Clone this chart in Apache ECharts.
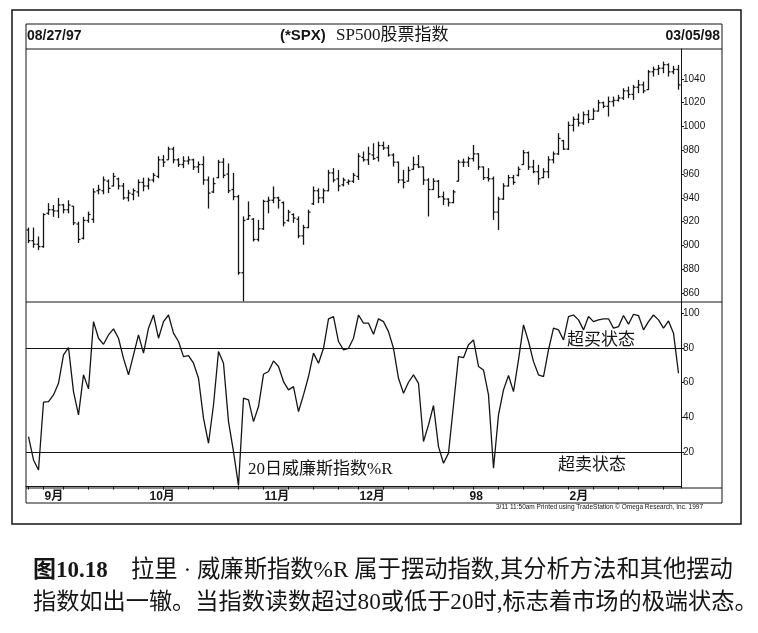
<!DOCTYPE html>
<html><head><meta charset="utf-8">
<script src="https://cdn.jsdelivr.net/npm/echarts@6/dist/echarts.min.js"></script>
<style>html,body{margin:0;padding:0;background:#fff}#c{width:758px;height:633px}</style>
</head><body><div id="c"></div>
<script>
// trading days per month
const d97_08 = [27,28,29];
const d97_09 = [2,3,4,5,8,9,10,11,12,15,16,17,18,19,22,23,24,25,26,29,30];
const d97_10 = [1,2,3,6,7,8,9,10,13,14,15,16,17,20,21,22,23,24,27,28,29,30,31];
const d97_11 = [3,4,5,6,7,10,11,12,13,14,17,18,19,20,21,24,25,26,28];
const d97_12 = [1,2,3,4,5,8,9,10,11,12,15,16,17,18,19,22,23,24,26,29,30,31];
const d98_01 = [2,5,6,7,8,9,12,13,14,15,16,20,21,22,23,26,27,28,29,30];
const d98_02 = [2,3,4,5,6,9,10,11,12,13,17,18,19,20,23,24,25,26,27];
const d98_03 = [2,3,4,5];
const monthKeys  = ['1997-09','1997-10','1997-11','1997-12','1998-01','1998-02'];
const monthNames = ['9月','10月','11月','12月','98','2月'];
const priceTicks = [860,880,900,920,940,960,980,1000,1020,1040];
const wrTicks = [20,40,60,80,100];
const wrLevels = [80,20];

const open = [913,904,901,899,927,930,929,934,930,933,918,906,921,922,946,946,954,950,956,950,
940,943,945,953,950,955,958,972,972,981,972,968,971,972,966,968,955,945,957,970,
960,947,941,877,922,922,905,914,937,938,940,936,921,926,922,908,915,935,946,940,
946,961,956,951,953,954,958,974,972,976,974,984,982,976,970,955,954,964,968,966,
955,947,954,941,939,936,954,970,970,973,977,966,957,956,928,939,950,957,959,968,
978,966,962,957,962,972,977,988,981,1001,1006,1003,1010,1006,1013,1020,1017,1021,1022,1024,
1030,1027,1033,1035,1031,1046,1048,1049,1052,1046,1048];
const high = [915,915,907.5,927,935.5,934,940,935,938,933,920,924,928.5,948,951,958,955.5,961,957,952.5,
946.7,948,955.5,957,957,961,975,976,983,983,973.4,975,975,973,970.6,975,958,957,972,973.4,
969,961,942.5,924.4,937,923,921.5,938.4,941,949.6,941,937,930,927,924.4,917.3,930,949.6,948,948,
963.5,965,963.5,957,955.5,961,977.5,979,983,985.9,987.3,987.3,984.5,977.5,970.5,963.5,966.3,974.7,976,966.3,
956.5,956.5,955,945.3,939.7,946.7,972,973,974.7,984.5,977.5,966.3,965,958,941,952.3,959.3,959.3,966.4,980.3,
979,972,967.8,965,975,979,994.4,988.8,1004.2,1008.4,1011,1012.6,1014,1015.4,1022.4,1021,1025.2,1025.2,1026.6,1032.2,
1033.6,1035,1039.2,1037.8,1047.6,1050.4,1051.8,1054.6,1053.2,1051,1051.8];
const low = [902,898,896,898,925.7,924,923,927,927,917,902,905,919,919,943,943,944,949.6,947,938.4,
937,938,941,945.5,947,953,956.5,966,972,969,966,965,968,963.5,961,951,931,944,956.5,956.5,
944,938,875.3,853,921.5,903.3,903.3,913,927,935.5,931,916,920,919,906,900.5,914.5,934,935.5,935.5,
945.5,953,945.5,949.6,951,952.5,955,970.5,967.7,971.9,970.5,980.3,974.7,966.3,952.3,948,953.7,963.5,965,950.9,
924.3,946.7,939.7,934,932.7,935.5,953.7,966,966,970.5,963.5,955,953.7,921.5,913,938.3,949.5,951,958,967.8,
963.5,960.7,951,956.5,956.5,969,976,980.3,980.3,995.8,1000,1001.4,1002.8,1005.6,1012.6,1015.4,1008.4,1016.8,1021,1022.4,
1023.8,1022.4,1028,1028,1030.8,1042,1043.4,1044.8,1042,1044,1031];
const close = [904,901,899,926,930,929,934,930,934,919,905,921,926,945,947,955,948,958,950,940,
944,946,953,950,955,959,972,970,981,972,968,971,972,966,968,955,944,952,970,959,
946,941,877,921,925,905,914,937,938,940,938,919,928,923,908,915,928,946,940,946,
961,955,950,955,954,959,975,972,977,973,984,982,976,970,955,953,963,968,966,955,
947,954,941,939,936,945,970,970,973,977,966,957,956,928,939,950,957,953,964,978,
966,962,956,962,972,977,990,981,1001,1006,1003,1010,1006,1013,1020,1017,1021,1022,1024,1030,
1027,1033,1035,1030,1046,1048,1049,1052,1046,1048,1035];
const williamsR = [28.9,15.4,9.6,48.7,49,52.9,59.6,76,80.2,54.8,41.4,64.5,56.4,95.2,85.6,82.1,87.5,91,85.6,74,
64.5,76,87.5,77,91.4,99,85.6,95.2,99,88.5,83.7,75,75.6,71.2,62.5,39.5,25,47.1,77.9,71.2,
37.5,20.2,0.6,51,50,37.5,46.2,64.8,66.4,72.5,69.3,60.6,55.8,57.7,43.3,52.9,63.5,77,71.2,79.8,
96.8,98.1,83.7,78.9,79.8,85.6,99,94.3,94.3,87.9,96.8,95.2,89.4,79.8,62.5,53.9,60.2,64.5,59.6,26,
35.6,46.8,23.1,13.5,19.3,47.1,75,74.4,81.8,84.6,69.3,67.3,52.9,10.6,41.4,55.8,64.1,54.8,73.1,93.3,
83.7,72.1,64.5,63.5,78.9,91.4,90.4,84.6,98.1,99,96.2,90.4,98.1,95.2,96.2,96.8,96.8,91.4,92.3,98.7,
93.7,99.4,98.7,90.4,95.2,99,96.2,91.4,95.6,88.5,65.4];

// build categories
const months = [['1997-08',d97_08],['1997-09',d97_09],['1997-10',d97_10],['1997-11',d97_11],
  ['1997-12',d97_12],['1998-01',d98_01],['1998-02',d98_02],['1998-03',d98_03]];
const dates = [];
months.forEach(([m, days]) => days.forEach(d => dates.push(m + '-' + String(d).padStart(2,'0'))));
const weekNo = s => Math.floor((Date.parse(s + 'T00:00:00Z') / 86400000 + 3) / 7);
const isWeekStart = i => i === 0 || weekNo(dates[i]) !== weekNo(dates[i-1]);
const isMonthStart = i => i > 0 && dates[i].slice(0,7) !== dates[i-1].slice(0,7);

const ohlc = dates.map((d, i) => [i, open[i], close[i], low[i], high[i]]);

const chart = echarts.init(document.getElementById('c'), null, {renderer: 'canvas'});
const ink = '#151515';
const serifCJK = '"Liberation Serif","Noto Sans CJK SC",serif';
const sansCJK = '"Liberation Sans","Noto Sans CJK SC",sans-serif';

chart.setOption({
  backgroundColor: '#fff',
  animation: false,
  grid: [
    {left: 26, top: 49, width: 655, height: 253},
    {left: 26, top: 302, width: 655, height: 186}
  ],
  xAxis: [
    {type: 'category', gridIndex: 0, data: dates, boundaryGap: true, show: false},
    {type: 'category', gridIndex: 1, data: dates, boundaryGap: true,
      axisLine: {show: true, lineStyle: {color: ink, width: 1}},
      axisTick: {show: true, alignWithLabel: true, length: 3, inside: false,
        interval: (i) => isWeekStart(i), lineStyle: {color: ink}},
      axisLabel: {show: true, interval: (i) => isMonthStart(i) && monthKeys.indexOf(dates[i].slice(0,7)) >= 0,
        formatter: (v) => monthNames[monthKeys.indexOf(v.slice(0,7))] || '',
        align: 'left', margin: 3, color: ink, fontSize: 12, fontWeight: 'bold',
        fontFamily: sansCJK, padding: [0,0,0,1]},
      splitLine: {show: false}}
  ],
  yAxis: [
    {type: 'value', gridIndex: 0, position: 'right', min: 852.4, max: 1065.2, scale: true,
      axisLine: {show: true, lineStyle: {color: ink, width: 1}},
      axisTick: {show: true, length: 3, customValues: priceTicks, lineStyle: {color: ink}},
      axisLabel: {customValues: priceTicks, formatter: (v) => String(v), color: ink, fontSize: 10, margin: 2,
        fontFamily: '"Liberation Sans",Arial,sans-serif'},
      splitLine: {show: false}},
    {type: 'value', gridIndex: 1, position: 'right', min: -0.8, max: 106.5,
      axisLine: {show: true, lineStyle: {color: ink, width: 1}},
      axisTick: {show: true, length: 3, customValues: wrTicks, lineStyle: {color: ink}},
      axisLabel: {customValues: wrTicks, formatter: (v) => String(v), color: ink, fontSize: 10, margin: 2,
        fontFamily: '"Liberation Sans",Arial,sans-serif'},
      splitLine: {show: false}}
  ],
  series: [
    {type: 'custom', xAxisIndex: 0, yAxisIndex: 0, data: ohlc, encode: {x: 0, y: [1,2,3,4]},
      renderItem: (params, api) => {
        const x = api.value(0);
        const o = api.coord([x, api.value(1)]);
        const c = api.coord([x, api.value(2)]);
        const l = api.coord([x, api.value(3)]);
        const h = api.coord([x, api.value(4)]);
        const st = {stroke: ink, lineWidth: 1.3};
        return {type: 'group', children: [
          {type: 'line', shape: {x1: h[0], y1: h[1], x2: l[0], y2: l[1]}, style: st},
          {type: 'line', shape: {x1: o[0]-2, y1: o[1], x2: o[0], y2: o[1]}, style: st},
          {type: 'line', shape: {x1: c[0], y1: c[1], x2: c[0]+2, y2: c[1]}, style: st}
        ]};
      }},
    {type: 'line', xAxisIndex: 1, yAxisIndex: 1, data: williamsR, symbol: 'none',
      lineStyle: {color: ink, width: 1.3}, silent: true,
      markLine: {symbol: 'none', silent: true, label: {show: false},
        lineStyle: {color: ink, width: 1, type: 'solid'},
        data: wrLevels.map(v => ({yAxis: v}))}}
  ],
  graphic: [
    {type: 'rect', shape: {x: 12, y: 10, width: 729, height: 514}, style: {fill: 'none', stroke: ink, lineWidth: 1.5}, silent: true},
    {type: 'rect', shape: {x: 26, y: 24, width: 696, height: 479}, style: {fill: 'none', stroke: ink, lineWidth: 1}, silent: true},
    {type: 'line', shape: {x1: 26, y1: 49, x2: 722, y2: 49}, style: {stroke: ink, lineWidth: 1}, silent: true},
    {type: 'line', shape: {x1: 26, y1: 302, x2: 722, y2: 302}, style: {stroke: ink, lineWidth: 1}, silent: true},
    {type: 'line', shape: {x1: 26, y1: 488, x2: 722, y2: 488}, style: {stroke: ink, lineWidth: 1}, silent: true},
    {type: 'text', left: 27, top: 29, style: {text: '08/27/97', font: 'bold 14px "Liberation Sans",Arial,sans-serif', fill: ink}},
    {type: 'text', left: 280, top: 28, style: {text: '(*SPX)', font: 'bold 15px "Liberation Sans",Arial,sans-serif', fill: ink}},
    {type: 'text', left: 336, top: 27, style: {text: 'SP500股票指数', font: '17px ' + serifCJK, fill: ink}},
    {type: 'text', right: 38, top: 29, style: {text: '03/05/98', font: 'bold 14px "Liberation Sans",Arial,sans-serif', fill: ink}},
    {type: 'text', left: 567, top: 332, style: {text: '超买状态', font: '17px ' + serifCJK, fill: ink}},
    {type: 'text', left: 558, top: 457, style: {text: '超卖状态', font: '17px ' + serifCJK, fill: ink}},
    {type: 'text', left: 248, top: 461, style: {text: '20日威廉斯指数%R', font: '17px ' + serifCJK, fill: ink}},
    {type: 'text', left: 496, top: 504, style: {text: '3/11 11:50am Printed using TradeStation © Omega Research, Inc. 1997', font: '6.5px "Liberation Sans",Arial,sans-serif', fill: ink}},
    {type: 'text', left: 33, top: 559, style: {
      text: '{b|图10.18}    拉里 · 威廉斯指数%R 属于摆动指数,其分析方法和其他摆动',
      font: '23.3px ' + serifCJK, fill: ink,
      rich: {b: {fontWeight: 'bold', fontSize: 23, fontFamily: serifCJK}}}},
    {type: 'text', left: 33, top: 591, style: {
      text: '指数如出一辙。当指数读数超过80或低于20时,标志着市场的极端状态。',
      font: '23.2px ' + serifCJK, fill: ink}}
  ]
});
</script></body></html>
